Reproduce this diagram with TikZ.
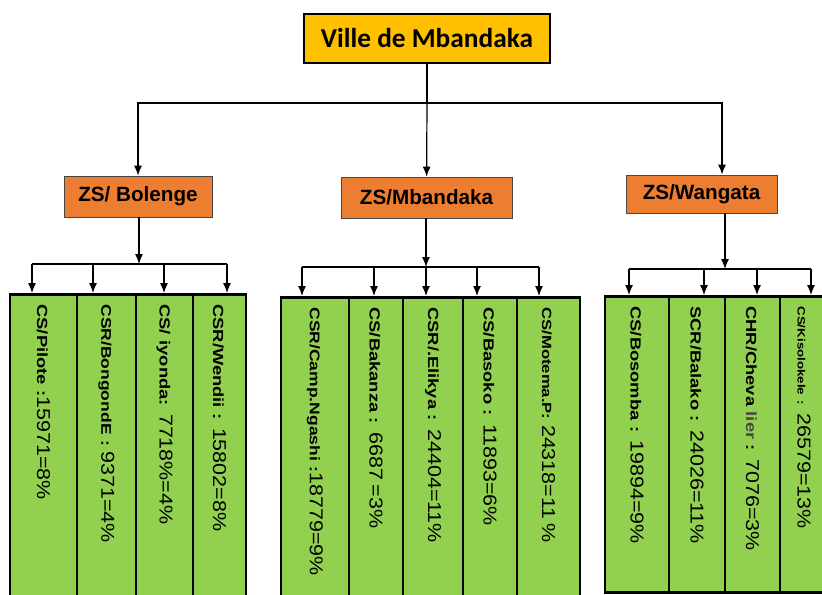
\documentclass[tikz,border=0pt]{standalone}
\usepackage{fontspec}
\usepackage{graphicx}
\setmainfont{Liberation Sans}
\newfontfamily\titlefont{Carlito}
\newfontfamily\numfont[FakeStretch=1.15]{Liberation Sans}
\usetikzlibrary{arrows.meta}

\definecolor{rootgold}{RGB}{255,192,0}
\definecolor{zoneorange}{RGB}{237,125,49}
\definecolor{zoneedge}{RGB}{70,70,70}
\definecolor{leafgreen}{RGB}{146,208,80}
\definecolor{liergray}{RGB}{70,70,70}

% label (bold, stretched) + count (regular)
\newcommand{\leaftext}[3][11]{\mbox{\scalebox{1.25}[1]{\bfseries\fontsize{#1}{12}\selectfont #2}{\numfont\fontsize{14}{15}\selectfont #3}}}

\tikzset{
  root/.style={draw=black, line width=1.5pt, fill=rootgold, minimum width=184.5pt, minimum height=36.75pt,
    inner sep=0pt, font=\titlefont\bfseries\fontsize{20.5}{21}\selectfont},
  zone/.style={draw=zoneedge, line width=0.6pt, fill=zoneorange, minimum height=30.75pt,
    inner sep=0pt, font=\bfseries\fontsize{15.5}{16}\selectfont},
  leaf/.style={draw=black, line width=2.2pt, fill=leafgreen, rotate=-90, anchor=west, align=left,
    inner xsep=7.5pt, inner ysep=0pt, text width=#1},
  arr/.style={line width=0.9pt, -{Latex[length=7.5pt,width=6pt]}},
  link/.style={line width=0.9pt}
}

\begin{document}
\begin{tikzpicture}[x=0.75pt,y=0.75pt,yscale=-1,xscale=1]
	\useasboundingbox (0,0) rectangle (822,594);

	% Top node
	\node[root] (ville) at (427,38.5) {Ville de Mbandaka};

	% Zones
	\node[zone, minimum width=111pt] (bolenge) at (138,196.5) {ZS/ Bolenge};
	\node[zone, minimum width=128.25pt] (mbandaka) at (426.5,197.5) {ZS/Mbandaka};
	\node[zone, minimum width=113.25pt, minimum height=28.5pt] (wangata) at (701.5,194) {ZS/Wangata};

	% Ville -> zones
	\coordinate (bus) at (427,103);
	\coordinate (wdrop) at (722,103);
	\draw[link] (ville) -- (bus);
	\draw[arr] (bus) -- (mbandaka);
	\draw[arr] (bus) -| (bolenge);
	\draw[arr] (bus) -| (wdrop |- wangata.north);

	% ZS/ Bolenge boxes
	\node[leaf=215.25pt, minimum height=50.25pt] (b1) at (43.5,293) {\leaftext{CS/Pilote :}{15971=8\%}};
	\node[leaf=215.25pt, minimum height=44.25pt] (b2) at (106.5,293) {\leaftext[10.5]{CSR/BongondE : }{9371=4\%}};
	\node[leaf=215.25pt, minimum height=42.75pt] (b3) at (164.5,293) {\leaftext{CS/ iyonda: }{7718\%=4\%}};
	\node[leaf=215.25pt, minimum height=39.75pt] (b4) at (219.5,293) {\leaftext{CSR/Wendii : }{15802=8\%}};

	% ZS/Mbandaka boxes
	\node[leaf=213pt, minimum height=51pt] (m1) at (315,296) {\leaftext[10.5]{CSR/Camp.Ngashi :}{18779=9\%}};
	\node[leaf=213pt, minimum height=40.5pt] (m2) at (376,296) {\leaftext{CS/Bakanza : }{6687 =3\%}};
	\node[leaf=213pt, minimum height=45pt] (m3) at (433,296) {\leaftext{CSR/.Elikya : }{24404=11\%}};
	\node[leaf=213pt, minimum height=40.5pt] (m4) at (490,296) {\leaftext{CS/Basoko : }{11893=6\%}};
	\node[leaf=213pt, minimum height=47.25pt] (m5) at (548.5,296) {\leaftext[10]{CS/Motema.P: }{24318=11 \%}};

	% ZS/Wangata boxes
	\node[leaf=207pt, minimum height=48pt] (w1) at (637,295) {\leaftext{CS/Bosomba : }{19894=9\%}};
	\node[leaf=207pt, minimum height=42pt] (w2) at (697,295) {\leaftext{SCR/Balako : }{24026=11\%}};
	\node[leaf=207pt, minimum height=41.25pt] (w3) at (752.5,295) {\leaftext{CHR/Cheva \textcolor{liergray}{lier} : }{7076=3\%}};
	\node[leaf=207pt, minimum height=36pt] (w4) at (804,295) {\leaftext[8]{CS/Kisolokele : }{26579=13\%}};

	% Bolenge -> boxes
	\coordinate (bb) at (139,264);
	\coordinate (bb1) at (32,264);
	\coordinate (bb2) at (93,264);
	\coordinate (bb3) at (164,264);
	\coordinate (bb4) at (227,264);
	\draw[arr] (bb |- bolenge.south) -- (bb);
	\draw[link] (bb1) -- (bb4);
	\draw[arr] (bb1) -- (bb1 |- b1.west);
	\draw[arr] (bb2) -- (bb2 |- b2.west);
	\draw[arr] (bb3) -- (bb3 |- b3.west);
	\draw[arr] (bb4) -- (bb4 |- b4.west);

	% Mbandaka -> boxes
	\coordinate (mb) at (426,267);
	\coordinate (mb1) at (302,267);
	\coordinate (mb2) at (374,267);
	\coordinate (mb3) at (426,267);
	\coordinate (mb4) at (477,267);
	\coordinate (mb5) at (539,267);
	\draw[arr] (mb |- mbandaka.south) -- (mb);
	\draw[link] (mb1) -- (mb5);
	\draw[arr] (mb1) -- (mb1 |- m1.west);
	\draw[arr] (mb2) -- (mb2 |- m2.west);
	\draw[arr] (mb3) -- (mb3 |- m3.west);
	\draw[arr] (mb4) -- (mb4 |- m4.west);
	\draw[arr] (mb5) -- (mb5 |- m5.west);

	% Wangata -> boxes
	\coordinate (wb) at (725,269);
	\coordinate (wb1) at (629,269);
	\coordinate (wb2) at (704,269);
	\coordinate (wb3) at (757,269);
	\coordinate (wb4) at (811,269);
	\draw[arr] (wb |- wangata.south) -- (wb);
	\draw[link] (wb1) -- (wb4);
	\draw[arr] (wb1) -- (wb1 |- w1.west);
	\draw[arr] (wb2) -- (wb2 |- w2.west);
	\draw[arr] (wb3) -- (wb3 |- w3.west);
	\draw[arr] (wb4) -- (wb4 |- w4.west);
\end{tikzpicture}
\end{document}
